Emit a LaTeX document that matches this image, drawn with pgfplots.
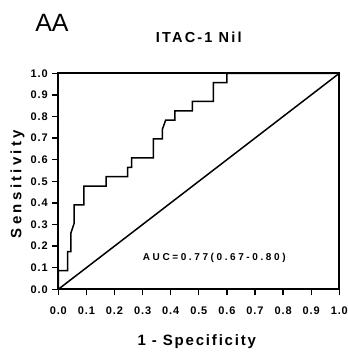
\documentclass[border=0pt]{standalone}
\usepackage{fontspec}
\setmainfont{Liberation Sans}
\usepackage{pgfplots}
\pgfplotsset{compat=1.18}
\begin{document}
\begin{tikzpicture}
\path[use as bounding box] (-58.3pt,-64.7pt) rectangle (289.7pt,289.3pt);
\begin{axis}[
  scale only axis, width=281pt, height=216pt,
  xmin=0, xmax=1, ymin=0, ymax=1,
  xtick={0,0.1,0.2,0.3,0.4,0.5,0.6,0.7,0.8,0.9,1.0},
  ytick={0,0.1,0.2,0.3,0.4,0.5,0.6,0.7,0.8,0.9,1.0},
  xtick pos=bottom, ytick pos=left,
  tick align=outside, major tick length=6pt,
  tick style={line width=1.3pt, black},
  axis line style={line width=2pt},
  /pgf/number format/assume math mode=true,
  /pgf/number format/fixed, /pgf/number format/fixed zerofill, /pgf/number format/precision=1,
  ticklabel style={font=\fontsize{11}{13}\selectfont\bfseries\addfontfeature{LetterSpace=8}},
  xticklabel style={yshift=-8pt},
  yticklabel style={xshift=-1pt},
  title={ITAC-1 Nil},
  title style={at={(axis description cs:0.5,1)}, anchor=center, yshift=30pt,
    font=\fontsize{14.5}{16}\selectfont\bfseries\addfontfeature{LetterSpace=15}},
  xlabel={1 - Specificity},
  xlabel style={at={(axis description cs:0.493,0)}, anchor=center, yshift=-52.2pt,
    font=\fontsize{15}{17}\selectfont\bfseries\addfontfeature{LetterSpace=12}},
  ylabel={Sensitivity},
  ylabel style={at={(axis description cs:-0.1452,0.4875)}, anchor=center,
    font=\fontsize{15}{17}\selectfont\bfseries\addfontfeature{LetterSpace=22}},
  clip=false,
]
\addplot[black, line width=1.5pt] coordinates {
(0,0) (0,0.087) (0.033,0.087) (0.033,0.174) (0.045,0.174) (0.045,0.261)
(0.056,0.304) (0.056,0.391) (0.091,0.391) (0.091,0.478) (0.17,0.478)
(0.17,0.522) (0.247,0.522) (0.247,0.565) (0.261,0.565) (0.261,0.609)
(0.338,0.609) (0.338,0.696) (0.37,0.696) (0.37,0.739) (0.382,0.783)
(0.415,0.783) (0.415,0.826) (0.477,0.826) (0.477,0.870) (0.552,0.870)
(0.552,0.957) (0.6,0.957) (0.6,1) (1,1)
};
\addplot[black, line width=1.5pt] coordinates {(0,0) (1,1)};
\node[font=\fontsize{10}{12}\selectfont\bfseries\addfontfeature{LetterSpace=26}] at (axis cs:0.555,0.145) {AUC=0.77(0.67-0.80)};
\end{axis}
\node[font=\fontsize{25}{30}\selectfont] at (-6.3pt,266.8pt) {AA};
\end{tikzpicture}
\end{document}
